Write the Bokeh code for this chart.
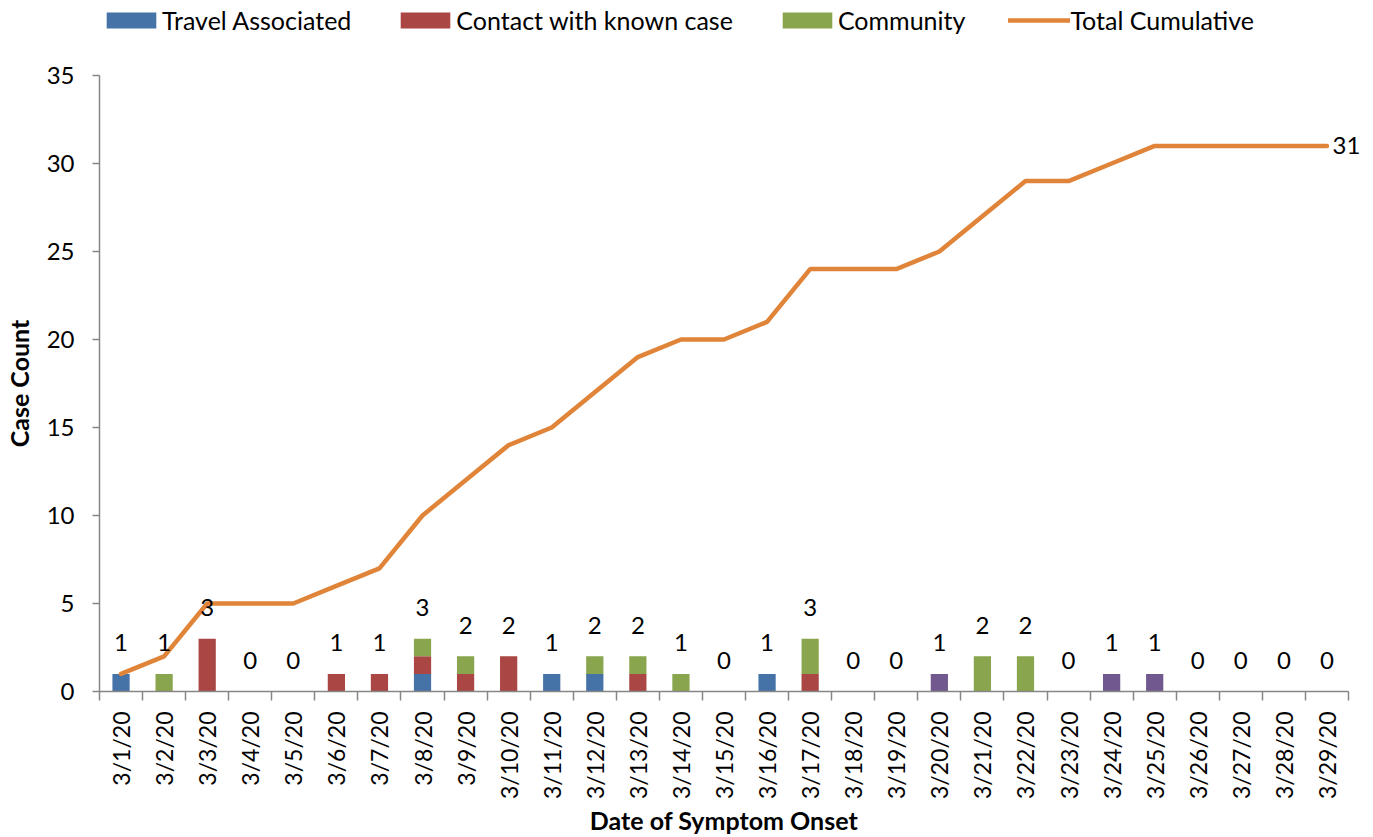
import math
from bokeh.plotting import figure
from bokeh.layouts import column
from bokeh.models import (Range1d, FixedTicker, ColumnDataSource, Legend, LegendItem,
                          LinearAxis)
from bokeh.core.properties import value
from bokeh.embed import file_html
from bokeh.resources import INLINE

dates = ["3/%d/20" % d for d in range(1, 30)]
travel    = [1,0,0,0,0,0,0,1,0,0,1,1,0,0,0,1,0,0,0,0,0,0,0,0,0,0,0,0,0]
contact   = [0,0,3,0,0,1,1,1,1,2,0,0,1,0,0,0,1,0,0,0,0,0,0,0,0,0,0,0,0]
community = [0,1,0,0,0,0,0,1,1,0,0,1,1,1,0,0,2,0,0,0,2,2,0,0,0,0,0,0,0]
other     = [0,0,0,0,0,0,0,0,0,0,0,0,0,0,0,0,0,0,0,1,0,0,0,1,1,0,0,0,0]
cumulative = [1,2,5,5,5,6,7,10,12,14,15,17,19,20,20,21,24,24,24,25,27,29,29,30,31,31,31,31,31]
y_ticks = [0, 5, 10, 15, 20, 25, 30, 35]
series_names = ["Travel Associated", "Contact with known case", "Community", "Total Cumulative"]

FONT = "Lato"
BLUE, RED, GREEN, PURPLE, ORANGE = "#4572A7", "#AA4643", "#89A54E", "#71588F", "#E0843A"
AXIS = "#868686"

x = list(range(len(dates)))
totals = [a + b + c + d for a, b, c, d in zip(travel, contact, community, other)]
src = ColumnDataSource(dict(x=x, travel=travel, contact=contact, community=community,
                            other=other, total=totals, lbl=[str(t) for t in totals],
                            cum=cumulative))

W, H = 1373, 837
LH = 46  # legend strip height

# ---------------- legend strip (its renderers are hidden; only the legend shows) ----------------
lf = figure(width=W, height=LH, output_backend="svg", toolbar_location=None, title=None,
            x_axis_type=None, y_axis_type=None, x_range=Range1d(-0.5, len(dates) - 0.5),
            y_range=Range1d(-2, -1), min_border=0)
lf.outline_line_color = None
lf.grid.visible = False
lr = [lf.vbar(x="x", top=col, width=0.4, color=c, line_color=None, source=src)
      for col, c in (("travel", BLUE), ("contact", RED), ("community", GREEN))]
lr.append(lf.line(x="x", y="cum", line_width=4.5, color=ORANGE, line_cap="round", source=src))
for r in lr:
    r.visible = False
legend = Legend(items=[LegendItem(label=n, renderers=[r]) for n, r in zip(series_names, lr)],
                orientation="horizontal", location=(1, 11),
                glyph_width=62, glyph_height=20, label_standoff=0, spacing=43,
                padding=0, margin=0, border_line_color=None, background_fill_alpha=0,
                label_text_font=FONT, label_text_font_size="25px", label_text_color="black")
lf.add_layout(legend, "center")

# ---------------- main chart ----------------
p = figure(width=W, height=H - LH, output_backend="svg", toolbar_location=None, title=None,
           x_range=Range1d(-0.5, len(dates) - 0.5), y_range=Range1d(0, 35),
           min_border_left=95, min_border_right=W - 1348, min_border_top=75 - LH,
           min_border_bottom=H - 691)
p.outline_line_color = None
p.xgrid.visible = False
p.ygrid.visible = False

bars = p.vbar_stack(["travel", "contact", "community", "other"], x="x", width=0.4,
                    color=[BLUE, RED, GREEN, PURPLE], line_color=None, source=src)
line = p.line("x", "cum", source=src, line_width=4.5, color=ORANGE, line_cap="round")

p.text("x", "total", text="lbl", source=src, y_offset=-31, text_align="center",
       text_baseline="middle", text_font=value(FONT), text_font_size="24px", text_color="black")

xa = p.xaxis[0]
ya = p.yaxis[0]

# end label of the cumulative line, as a right axis with one tick
ra = LinearAxis(ticker=FixedTicker(ticks=[cumulative[-1]]), axis_line_color=None,
                major_tick_line_color=None, minor_tick_line_color=None,
                major_tick_in=0, major_tick_out=0, major_label_standoff=-16,
                major_label_text_font=FONT, major_label_text_font_size="24px",
                major_label_text_color="black")
p.add_layout(ra, "right")

xa.ticker = FixedTicker(ticks=x, minor_ticks=[i - 0.5 for i in range(len(dates) + 1)])
xa.major_label_overrides = {i: d for i, d in enumerate(dates)}
xa.major_label_orientation = math.pi / 2
xa.major_tick_line_color = None
xa.major_tick_out = 0
xa.major_tick_in = 0
xa.minor_tick_in = 0
xa.minor_tick_out = 9
xa.minor_tick_line_color = AXIS
xa.minor_tick_line_width = 1.5
xa.axis_line_color = AXIS
xa.axis_line_width = 1.5
xa.major_label_text_font = FONT
xa.major_label_text_font_size = "23px"
xa.major_label_text_color = "black"
xa.major_label_standoff = 11
xa.axis_label = "Date of Symptom Onset"
xa.axis_label_text_font = FONT
xa.axis_label_text_font_style = "bold"
xa.axis_label_text_font_size = "25px"
xa.axis_label_text_color = "black"
xa.axis_label_standoff = 3

ya.ticker = FixedTicker(ticks=y_ticks)
ya.major_tick_in = 0
ya.major_tick_out = 7
ya.minor_tick_line_color = None
ya.major_tick_line_color = AXIS
ya.major_tick_line_width = 1.5
ya.axis_line_color = AXIS
ya.axis_line_width = 1.5
ya.major_label_text_font = FONT
ya.major_label_text_font_size = "24px"
ya.major_label_text_color = "black"
ya.major_label_standoff = 18
ya.axis_label = "Case Count"
ya.axis_label_text_font = FONT
ya.axis_label_text_font_style = "bold"
ya.axis_label_text_font_size = "25px"
ya.axis_label_text_color = "black"
ya.axis_label_standoff = 10

open("out.html", "w").write(file_html(column(lf, p, spacing=0), INLINE))
